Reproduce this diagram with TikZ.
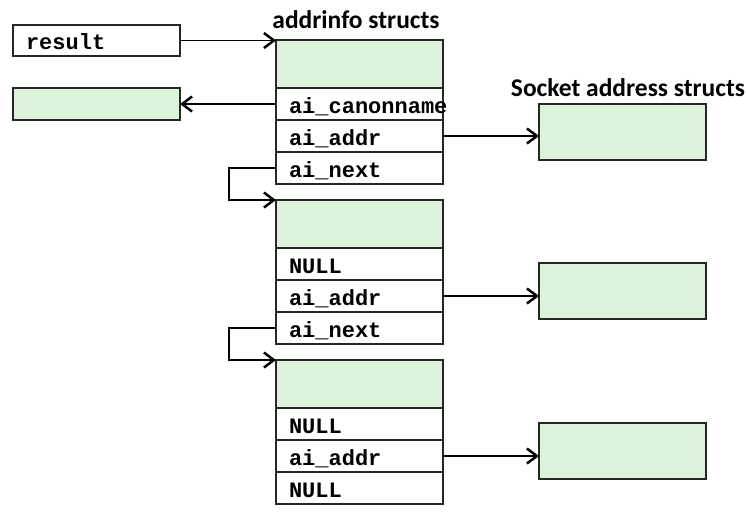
\documentclass[tikz,border=0pt]{standalone}
\usepackage{fontspec}
\setmainfont{Carlito}
\setmonofont{Liberation Mono}
\usetikzlibrary{arrows.meta}
\definecolor{cellgreen}{RGB}{220,242,218}
\begin{document}
\begin{tikzpicture}[x=1pt,y=-1pt,
  every path/.style={line width=1.3pt},
  cell/.style={draw=black!85, line width=1.3pt, minimum width=167pt, minimum height=32pt,
    anchor=north west, inner sep=0pt, outer sep=0pt},
  head/.style={cell, fill=cellgreen, minimum height=48pt},
  row/.style={cell, text width=141pt, inner xsep=13pt, align=left,
    text height=18pt, text depth=0pt,
    font=\fontsize{22}{24}\selectfont\ttfamily\bfseries},
  sock/.style={draw=black!85, line width=1.3pt, fill=cellgreen, minimum width=167pt,
    minimum height=56pt, anchor=north west, inner sep=0pt, outer sep=0pt},
  title/.style={font=\fontsize{25.5}{27}\selectfont\bfseries, inner sep=0pt},
  arr/.style={-{Straight Barb[length=10pt,width=15pt,line width=2.5pt]}, line width=1.3pt}
]
\useasboundingbox (0,0) rectangle (747,525);

\node[title] (t1) at (356,20) {addrinfo structs};
\node[title] (t2) at (628,88) {Socket address structs};

\node[row, minimum height=31pt] (result) at (13,25) {result};
\node[cell, fill=cellgreen] (canon) at (13,88) {};

% struct 1
\node[head] (h1) at (276,40) {};
\node[row] (c1) at (276,88) {ai\_canonname};
\node[row] (a1) at (276,120) {ai\_addr};
\node[row] (n1) at (276,152) {ai\_next};

% struct 2
\node[head] (h2) at (276,200) {};
\node[row] (c2) at (276,248) {NULL};
\node[row] (a2) at (276,280) {ai\_addr};
\node[row] (n2) at (276,312) {ai\_next};

% struct 3
\node[head] (h3) at (276,360) {};
\node[row] (c3) at (276,408) {NULL};
\node[row] (a3) at (276,440) {ai\_addr};
\node[row] (n3) at (276,472) {NULL};

% socket structs
\node[sock] (s1) at (539,104) {};
\node[sock] (s2) at (539,263) {};
\node[sock] (s3) at (539,423) {};

% connectors
\draw[arr] (result.east) -- (result.east -| h1.west);
\draw[arr] (c1.west) -- (c1.west -| canon.east);
\draw[arr] (a1.east) -- (a1.east -| s1.west);
\draw[arr] (a2.east) -- (a2.east -| s2.west);
\draw[arr] (a3.east) -- (a3.east -| s3.west);
\draw[arr] (n1.west) -- ++(-47,0) |- (h2.north west);
\draw[arr] (n2.west) -- ++(-47,0) |- (h3.north west);
\end{tikzpicture}
\end{document}
